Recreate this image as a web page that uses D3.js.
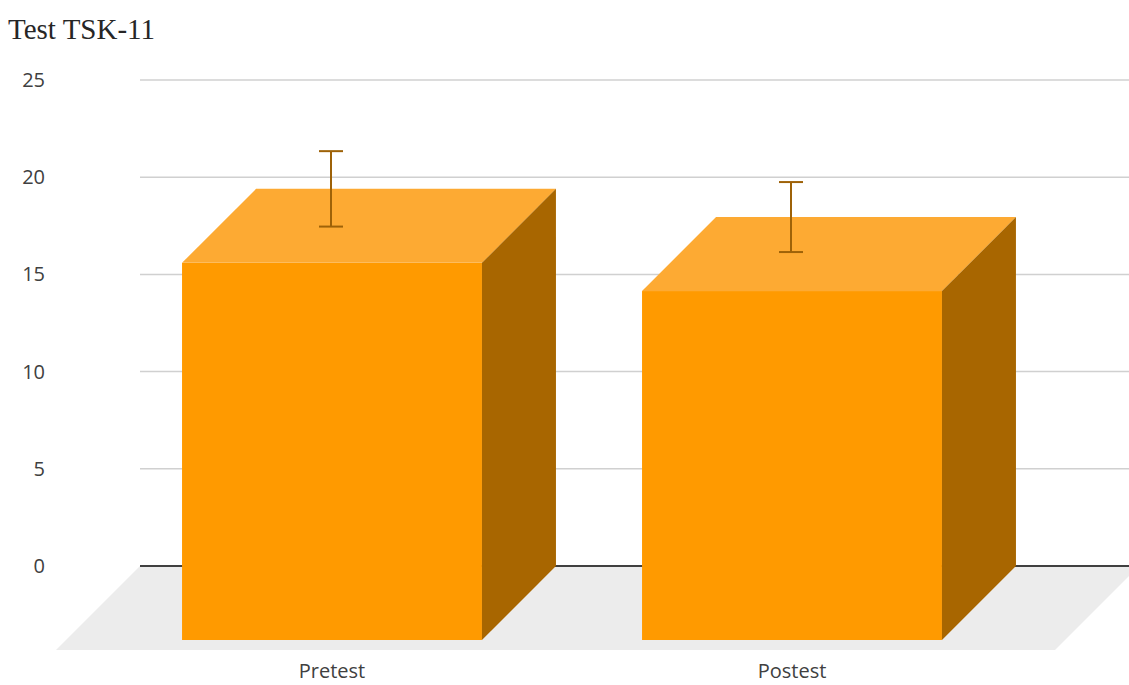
<!DOCTYPE html>
<html>
<head>
<meta charset="utf-8">
<script src="https://cdn.jsdelivr.net/npm/d3@7"></script>
<style>
  body { margin: 0; background: #fff; }
  svg text { font-family: "Open Sans", sans-serif; }
</style>
</head>
<body>
<div id="chart"></div>
<script>
// data
var categories = ["Pretest", "Postest"];
var means = [19.4, 17.95];
var errors = [1.94, 1.8];
var yTicks = [0, 5, 10, 15, 20, 25];

var width = 1129, height = 685;
var plotLeft = 140;
var depth = 74;        // 3d offset of the bars
var floorDepth = 84;   // 3d offset of the floor

var svg = d3.select("#chart")
    .append("svg")
    .attr("width", width)
    .attr("height", height);

var y = d3.scaleLinear()
    .domain([0, 25])
    .range([566, 80]);

// front-plane band scale
var x = d3.scaleBand()
    .domain(categories)
    .range([102, 1022])
    .paddingInner(0.348)
    .paddingOuter(0.174);

// title
svg.append("text")
    .attr("x", 8)
    .attr("y", 39)
    .style("font-family", "'Liberation Serif', serif")
    .style("font-size", "29px")
    .attr("fill", "#262626")
    .text("Test TSK-11");

// floor
var y0 = y(0);
svg.append("polygon")
    .attr("points", [
        [plotLeft, y0],
        [width + 10, y0],
        [width + 10 - floorDepth, y0 + floorDepth],
        [plotLeft - floorDepth, y0 + floorDepth]
    ].map(p => p.join(",")).join(" "))
    .attr("fill", "#ececec");

// gridlines
svg.selectAll(".grid")
    .data(yTicks.filter(d => d > 0))
    .enter()
    .append("line")
    .attr("class", "grid")
    .attr("x1", plotLeft)
    .attr("x2", width)
    .attr("y1", d => y(d))
    .attr("y2", d => y(d))
    .attr("stroke", "#d0d0d0")
    .attr("stroke-width", 1.5);

// zero line
svg.append("line")
    .attr("x1", plotLeft)
    .attr("x2", width)
    .attr("y1", y0)
    .attr("y2", y0)
    .attr("stroke", "#404040")
    .attr("stroke-width", 2);

// y axis labels
svg.selectAll(".ylab")
    .data(yTicks)
    .enter()
    .append("text")
    .attr("class", "ylab")
    .attr("x", 45)
    .attr("y", d => y(d) + 7)
    .attr("text-anchor", "end")
    .style("font-size", "20px")
    .attr("fill", "#404040")
    .text(d => d);

var bw = x.bandwidth();
var bars = svg.selectAll(".bar")
    .data(categories.map((c, i) => ({ name: c, mean: means[i], err: errors[i] })))
    .enter()
    .append("g")
    .attr("class", "bar");

// front face
bars.append("rect")
    .attr("x", d => x(d.name))
    .attr("y", d => y(d.mean) + depth)
    .attr("width", bw)
    .attr("height", d => y0 - y(d.mean))
    .attr("fill", "#ff9a00");

// top face
bars.append("polygon")
    .attr("points", function (d) {
        var x1 = x(d.name), yt = y(d.mean);
        return [
            [x1, yt + depth],
            [x1 + depth, yt],
            [x1 + bw + depth, yt],
            [x1 + bw, yt + depth]
        ].map(p => p.join(",")).join(" ");
    })
    .attr("fill", "#fdaa33");

// side face
bars.append("polygon")
    .attr("points", function (d) {
        var x2 = x(d.name) + bw, yt = y(d.mean);
        return [
            [x2, yt + depth],
            [x2 + depth, yt],
            [x2 + depth, y0],
            [x2, y0 + depth]
        ].map(p => p.join(",")).join(" ");
    })
    .attr("fill", "#a86600");

// error bars
var errColor = "#9e6208";
bars.append("line")
    .attr("x1", d => x(d.name) + bw / 2 - 1)
    .attr("x2", d => x(d.name) + bw / 2 - 1)
    .attr("y1", d => y(d.mean + d.err))
    .attr("y2", d => y(d.mean - d.err))
    .attr("stroke", errColor)
    .attr("stroke-width", 2);

[1, -1].forEach(function (s) {
    bars.append("line")
        .attr("x1", d => x(d.name) + bw / 2 - 13)
        .attr("x2", d => x(d.name) + bw / 2 + 11)
        .attr("y1", d => y(d.mean + s * d.err))
        .attr("y2", d => y(d.mean + s * d.err))
        .attr("stroke", errColor)
        .attr("stroke-width", 2);
});

// category labels
svg.selectAll(".xlab")
    .data(categories)
    .enter()
    .append("text")
    .attr("class", "xlab")
    .attr("x", d => x(d) + bw / 2)
    .attr("y", 678)
    .attr("text-anchor", "middle")
    .style("font-size", "20px")
    .attr("fill", "#404040")
    .text(d => d);
</script>
</body>
</html>
